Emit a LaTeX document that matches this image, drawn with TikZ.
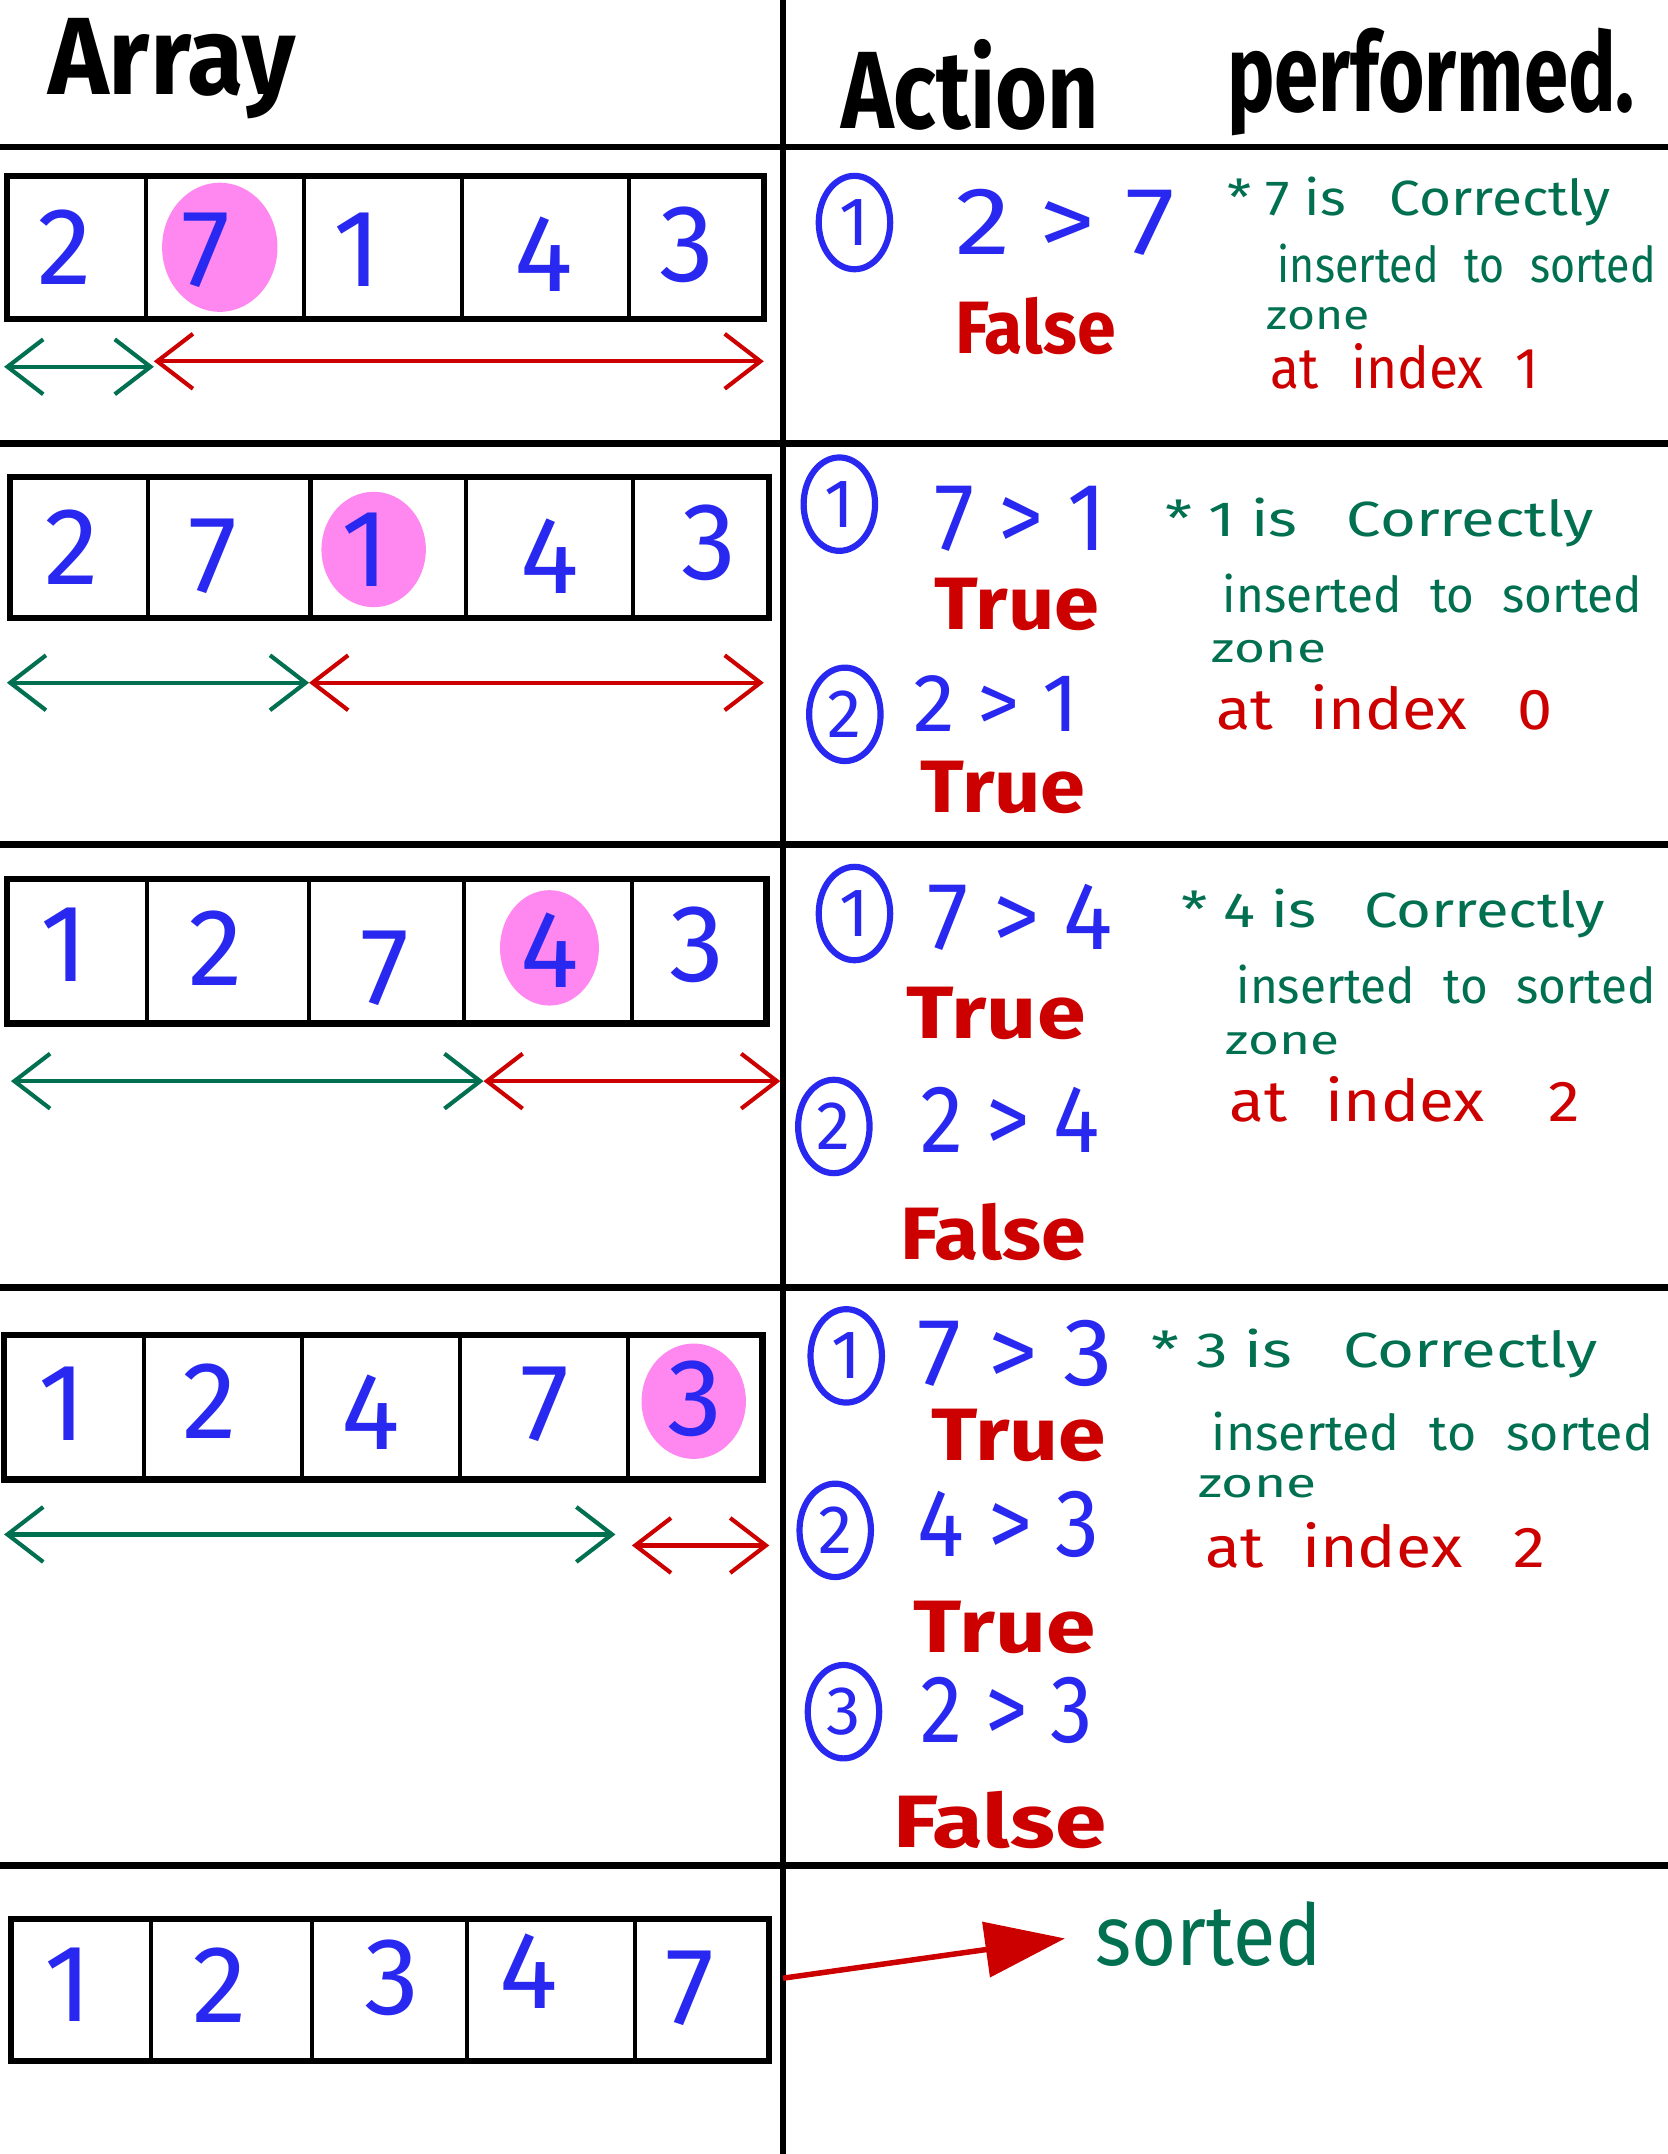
\documentclass[tikz,border=0pt]{standalone}
\usepackage{fontspec}
\setmainfont{Fira Sans}
\usetikzlibrary{arrows.meta,shapes.geometric}
\definecolor{penblue}{RGB}{40,40,240}
\definecolor{penred}{RGB}{205,0,0}
\definecolor{pengreen}{RGB}{0,112,80}
\definecolor{penpink}{RGB}{255,136,240}
\newcommand{\fitw}[2]{\resizebox{#1pt}{\height}{#2}}
\tikzset{
  sep/.style={line width=5pt, black},
  boxline/.style={line width=4.5pt, black},
  cellline/.style={line width=3pt, black},
  num/.style={text=penblue, font=\fontsize{80}{80}\selectfont, inner sep=0pt},
  hl/.style={fill=penpink, draw=none},
  cmp/.style={text=penblue, font=\fontsize{70}{70}\selectfont, anchor=west, inner sep=0pt},
  verdict/.style={text=penred, font=\bfseries\fontsize{54}{54}\selectfont, anchor=west, inner sep=0pt},
  circnum/.style={ellipse, draw=penblue, line width=4.5pt, text=penblue, minimum width=52pt, minimum height=68pt, inner sep=0pt, font=\fontsize{50}{50}\selectfont},
  note/.style={text=pengreen, font=\fontsize{36}{36}\selectfont, anchor=west, inner sep=0pt},
  zonet/.style={text=pengreen, font=\fontsize{30}{30}\selectfont, anchor=west, inner sep=0pt},
  idx/.style={text=penred, font=\fontsize{42}{42}\selectfont, anchor=west, inner sep=0pt},
  garrow/.style={draw=pengreen, line width=3pt, {Straight Barb[length=26pt,width=40pt]}-{Straight Barb[length=26pt,width=40pt]}},
  rarrow/.style={draw=penred, line width=3pt, {Straight Barb[length=26pt,width=40pt]}-{Straight Barb[length=26pt,width=40pt]}},
  title/.style={font=\bfseries\fontsize{80}{80}\selectfont, anchor=west, inner sep=0pt}
}
\begin{document}
\begin{tikzpicture}[x=1pt,y=-1pt]
\useasboundingbox (0,0) rectangle (1214,1568);
\fill[white] (0,0) rectangle (1214,1568);

% headers
\node[title] (tArray) at (35,50) {\fitw{180}{Array}};
\node[title] (tAction) at (612,62) {\fitw{188}{Action}};
\node[title] (tPerf) at (893,60) {\fitw{297}{performed.}};

% grid lines
\coordinate (vt) at (570,0);
\coordinate (vb) at (570,1568);
\draw[sep] (vt) -- (vb);
\foreach \yy/\nm in {107/h1,323/h2,615/h3,937/h4,1358/h5}{
  \coordinate (\nm l) at (0,\yy);
  \coordinate (\nm r) at (1214,\yy);
  \draw[sep] (\nm l) -- (\nm r);
}

% ---------- Row 1 ----------
\fill[hl] (160,180) ellipse [x radius=42, y radius=47];
\draw[boxline] (5,128) rectangle (556,232);
\foreach \xx in {106,221,336,458} \draw[cellline] (\xx,128) -- (\xx,232);
\node[num] (a11) at (47,180) {2};
\node[num] (a12) at (150,182) {7};
\node[num] (a13) at (260,182) {1};
\node[num] (a14) at (396,185) {4};
\node[num] (a15) at (500,178) {3};
\coordinate (g1a) at (3,267); \coordinate (g1b) at (112,267);
\coordinate (r1a) at (112,263); \coordinate (r1b) at (556,263);
\draw[garrow] (g1a) -- (g1b);
\draw[rarrow] (r1a) -- (r1b);

\node[circnum] (c11) at (622,162) {1};
\node[cmp] (q11) at (695,162) {\fitw{160}{2 > 7}};
\node[verdict] (v11) at (695,237) {\fitw{117}{False}};
\node[note] (n11) at (893,147) {\fitw{279}{* 7 is\hspace{0.8em}Correctly}};
\node[note] (n12) at (930,192) {\fitw{275}{inserted\hspace{0.6em}to\hspace{0.6em}sorted}};
\node[zonet] (n13) at (922,232) {\fitw{75}{zone}};
\node[idx] (n14) at (925,267) {\fitw{195}{at\hspace{0.6em}index\hspace{0.6em}1}};

% ---------- Row 2 ----------
\fill[hl] (272,400) ellipse [x radius=38, y radius=42];
\draw[boxline] (7,347) rectangle (560,450);
\foreach \xx in {108,226,339,461} \draw[cellline] (\xx,347) -- (\xx,450);
\node[num] (a21) at (52,398) {2};
\node[num] (a22) at (155,405) {7};
\node[num] (a23) at (266,400) {1};
\node[num] (a24) at (400,405) {4};
\node[num] (a25) at (516,395) {3};
\coordinate (g2a) at (5,497); \coordinate (g2b) at (225,497);
\coordinate (r2a) at (225,497); \coordinate (r2b) at (556,497);
\draw[garrow] (g2a) -- (g2b);
\draw[rarrow] (r2a) -- (r2b);

\node[circnum] (c21) at (611,367) {1};
\node[cmp] (q21) at (680,378) {\fitw{125}{7 > 1}};
\node[verdict] (v21) at (680,440) {\fitw{120}{True}};
\node[circnum] (c22) at (615,520) {2};
\node[cmp, font=\fontsize{60}{60}\selectfont] (q22) at (665,512) {\fitw{120}{2 > 1}};
\node[verdict] (v22) at (670,573) {\fitw{120}{True}};
\node[note] (n21) at (848,380) {\fitw{312}{* 1 is\hspace{0.8em}Correctly}};
\node[note] (n22) at (890,432) {\fitw{305}{inserted\hspace{0.6em}to\hspace{0.6em}sorted}};
\node[zonet] (n23) at (882,474) {\fitw{83}{zone}};
\node[idx] (n24) at (885,515) {\fitw{245}{at\hspace{0.6em}index\hspace{0.8em}0}};

% ---------- Row 3 ----------
\fill[hl] (400,690) ellipse [x radius=36, y radius=42];
\draw[boxline] (5,640) rectangle (558,745);
\foreach \xx in {107,225,338,460} \draw[cellline] (\xx,640) -- (\xx,745);
\node[num] (a31) at (47,688) {1};
\node[num] (a32) at (157,690) {2};
\node[num] (a33) at (280,705) {7};
\node[num] (a34) at (400,692) {4};
\node[num] (a35) at (507,688) {3};
\coordinate (g3a) at (8,787); \coordinate (g3b) at (352,787);
\coordinate (r3a) at (352,787); \coordinate (r3b) at (568,787);
\draw[garrow] (g3a) -- (g3b);
\draw[rarrow] (r3a) -- (r3b);

\node[circnum] (c31) at (622,665) {1};
\node[cmp] (q31) at (675,668) {\fitw{135}{7 > 4}};
\node[verdict] (v31) at (660,738) {\fitw{130}{True}};
\node[circnum] (c32) at (607,820) {2};
\node[cmp] (q32) at (670,815) {\fitw{130}{2 > 4}};
\node[verdict] (v32) at (655,897) {\fitw{135}{False}};
\node[note] (n31) at (860,665) {\fitw{308}{* 4 is\hspace{0.8em}Correctly}};
\node[note] (n32) at (900,717) {\fitw{305}{inserted\hspace{0.6em}to\hspace{0.6em}sorted}};
\node[zonet] (n33) at (892,760) {\fitw{83}{zone}};
\node[idx] (n34) at (895,800) {\fitw{255}{at\hspace{0.6em}index\hspace{1em}2}};

% ---------- Row 4 ----------
\fill[hl] (505,1020) ellipse [x radius=38, y radius=42];
\draw[boxline] (3,972) rectangle (555,1077);
\foreach \xx in {105,220,335,457} \draw[cellline] (\xx,972) -- (\xx,1077);
\node[num] (a41) at (45,1022) {1};
\node[num] (a42) at (153,1020) {2};
\node[num] (a43) at (270,1028) {4};
\node[num] (a44) at (397,1022) {7};
\node[num] (a45) at (506,1018) {3};
\coordinate (g4a) at (3,1117); \coordinate (g4b) at (448,1117);
\coordinate (r4a) at (460,1125); \coordinate (r4b) at (560,1125);
\draw[garrow] (g4a) -- (g4b);
\draw[rarrow] (r4a) -- (r4b);

\node[circnum] (c41) at (616,987) {1};
\node[cmp] (q41) at (668,985) {\fitw{142}{7 > 3}};
\node[verdict] (v41) at (678,1045) {\fitw{127}{True}};
\node[circnum] (c42) at (608,1114) {2};
\node[cmp] (q42) at (668,1110) {\fitw{132}{4 > 3}};
\node[verdict] (v42) at (665,1185) {\fitw{132}{True}};
\node[circnum] (c43) at (614,1246) {3};
\node[cmp] (q43) at (670,1245) {\fitw{125}{2 > 3}};
\node[verdict] (v43) at (650,1325) {\fitw{155}{False}};
\node[note] (n41) at (838,985) {\fitw{325}{* 3 is\hspace{0.8em}Correctly}};
\node[note] (n42) at (882,1042) {\fitw{321}{inserted\hspace{0.6em}to\hspace{0.6em}sorted}};
\node[zonet] (n43) at (872,1082) {\fitw{86}{zone}};
\node[idx] (n44) at (877,1125) {\fitw{248}{at\hspace{0.6em}index\hspace{0.8em}2}};

% ---------- Row 5 ----------
\draw[boxline] (8,1397) rectangle (560,1500);
\foreach \xx in {110,227,340,462} \draw[cellline] (\xx,1397) -- (\xx,1500);
\node[num] (a51) at (50,1445) {1};
\node[num] (a52) at (160,1445) {2};
\node[num] (a53) at (285,1440) {3};
\node[num] (a54) at (385,1435) {4};
\node[num] (a55) at (502,1447) {7};
\node[text=pengreen, font=\fontsize{62}{62}\selectfont, anchor=west, inner sep=0pt] (s5) at (797,1408) {\fitw{165}{sorted}};
\coordinate (p5a) at (570,1440);
\draw[draw=penred, fill=penred, line width=4pt, shorten >=22pt, -{Triangle[length=58pt,width=40pt]}] (p5a) -- (s5.west);
\end{tikzpicture}
\end{document}
